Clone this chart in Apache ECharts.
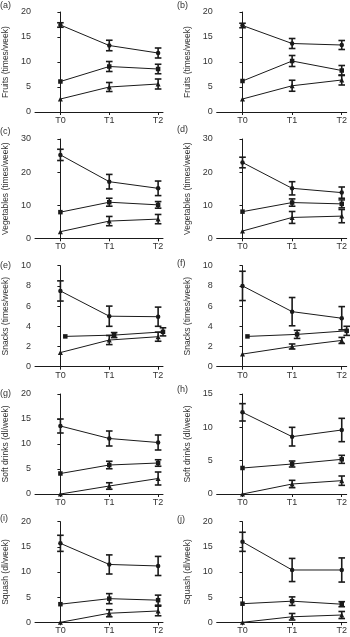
<!DOCTYPE html>
<html>
<head>
<meta charset="utf-8">
<script src="https://cdn.jsdelivr.net/npm/echarts@6/dist/echarts.min.js"></script>
<style>
  html, body { margin: 0; padding: 0; background: #fff; }
  #chart { width: 350px; height: 637px; }
</style>
</head>
<body>
<div id="chart"></div>
<script>
// measurement times
const times = ['T0', 'T1', 'T2'];
const panelLetters = ['(a)', '(b)', '(c)', '(d)', '(e)', '(f)', '(g)', '(h)', '(i)', '(j)'];
const yTitles = [
  'Fruits (times/week)', 'Fruits (times/week)',
  'Vegetables (times/week)', 'Vegetables (times/week)',
  'Snacks (times/week)', 'Snacks (times/week)',
  'Soft drinks (dl/week)', 'Soft drinks (dl/week)',
  'Squash (dl/week)', 'Squash (dl/week)'
];
const yMax = [20, 20, 30, 30, 10, 10, 20, 15, 20, 20];
const yStep = [5, 5, 10, 10, 2, 2, 5, 5, 5, 5];

// circle group (top line)
const circleMean = [
  [17.4, 13.3, 11.8],
  [17.3, 13.7, 13.4],
  [25.2, 17.1, 15.1],
  [22.9, 15.1, 13.8],
  [7.5, 5.0, 4.95],
  [8.0, 5.45, 4.8],
  [13.6, 11.1, 10.3],
  [12.25, 8.6, 9.6],
  [15.7, 11.5, 11.2],
  [16.0, 10.4, 10.4]
];
const circleErr = [
  [0.45, 1.05, 1.0],
  [0.45, 1.0, 0.9],
  [1.7, 2.2, 2.2],
  [1.6, 2.0, 1.7],
  [1.0, 1.0, 0.95],
  [1.45, 1.4, 1.15],
  [1.4, 1.5, 1.5],
  [1.3, 1.4, 1.75],
  [1.6, 1.9, 1.9],
  [1.9, 2.3, 2.4]
];
// square group (middle line)
const squareMean = [
  [6.1, 9.1, 8.6],
  [6.2, 10.2, 8.3],
  [7.9, 10.9, 10.1],
  [8.05, 10.8, 10.4],
  [3.0, 3.13, 3.45],
  [3.0, 3.2, 3.55],
  [4.1, 5.8, 6.2],
  [3.9, 4.5, 5.2],
  [3.6, 4.7, 4.4],
  [3.7, 4.2, 3.6]
];
const squareErr = [
  [0, 1.0, 0.95],
  [0, 1.1, 1.0],
  [0, 1.2, 1.0],
  [0, 1.1, 1.2],
  [0, 0.25, 0.4],
  [0, 0.4, 0.45],
  [0, 0.75, 0.65],
  [0, 0.45, 0.6],
  [0, 1.0, 1.0],
  [0, 0.85, 0.5]
];
// squares are drawn slightly right of the time point in (e) and (f)
const squareShift = [0, 0, 0, 0, 0.1, 0.1, 0, 0, 0, 0];
// triangle group (bottom line)
const triangleMean = [
  [2.6, 5.0, 5.6],
  [2.6, 5.25, 6.4],
  [2.0, 5.2, 5.8],
  [2.2, 6.3, 6.7],
  [1.4, 2.64, 2.97],
  [1.25, 2.0, 2.6],
  [0, 1.6, 3.1],
  [0, 1.5, 2.0],
  [0, 1.8, 2.25],
  [0, 1.1, 1.45]
];
const triangleErr = [
  [0, 0.9, 1.0],
  [0, 1.1, 1.0],
  [0, 1.4, 1.4],
  [0, 1.8, 2.0],
  [0, 0.45, 0.45],
  [0, 0.25, 0.3],
  [0, 0.65, 1.3],
  [0, 0.55, 0.7],
  [0, 0.7, 0.95],
  [0, 0.65, 0.7]
];

// layout
const colLeft = [32.5, 216.7];
const colWidth = [130.5, 130];
const rowTop = [12, 139, 265.7, 394, 521.7];
const rowHeight = [100, 99.3, 101, 100, 100.6];
const letterX = [0, 177];
const letterY = [1, 1, 127, 125, 261, 259, 389, 385, 514, 515];

const ink = '#1a1a1a';
const fontFamily = '"Liberation Sans", Arial, sans-serif';

function errBars(means, errs, shift) {
  const out = [];
  means.forEach((m, i) => {
    if (errs[i] > 0) out.push([i + shift, m - errs[i], m + errs[i]]);
  });
  return out;
}

function renderErr(params, api) {
  const x = api.value(0);
  const lo = api.coord([x, api.value(1)]);
  const hi = api.coord([x, api.value(2)]);
  const w = 3.3;
  const st = { stroke: ink, lineWidth: 1.6 };
  return {
    type: 'group',
    children: [
      { type: 'line', shape: { x1: lo[0], y1: lo[1], x2: hi[0], y2: hi[1] }, style: st },
      { type: 'line', shape: { x1: lo[0] - w, y1: lo[1], x2: lo[0] + w, y2: lo[1] }, style: st },
      { type: 'line', shape: { x1: hi[0] - w, y1: hi[1], x2: hi[0] + w, y2: hi[1] }, style: st }
    ]
  };
}

const grid = [], xAxis = [], yAxis = [], series = [], graphic = [];

for (let p = 0; p < 10; p++) {
  const col = p % 2, row = Math.floor(p / 2);
  grid.push({
    left: colLeft[col], top: rowTop[row],
    width: colWidth[col], height: rowHeight[row]
  });
  xAxis.push({
    type: 'value', gridIndex: p, min: -0.52, max: 2.1,
    axisLine: { show: true, lineStyle: { color: ink, width: 1 } },
    axisTick: { show: true, length: 3, customValues: [0, 1, 2], lineStyle: { color: ink } },
    axisLabel: {
      customValues: [0, 1, 2], formatter: v => times[v],
      fontSize: 9, color: '#333', margin: 4, fontFamily
    },
    splitLine: { show: false }
  });
  yAxis.push({
    type: 'value', gridIndex: p, min: 0, max: yMax[p], interval: yStep[p],
    name: yTitles[p], nameLocation: 'middle', nameGap: 25, nameRotate: 90,
    nameTextStyle: { fontSize: 8.5, color: '#333', fontFamily },
    axisLine: { show: true, lineStyle: { color: ink, width: 1 } },
    axisTick: { show: true, length: 3, lineStyle: { color: ink } },
    axisLabel: { fontSize: 9, color: '#333', margin: 4, fontFamily },
    splitLine: { show: false }
  });

  const groups = [
    { mean: circleMean[p], err: circleErr[p], shift: 0, symbol: 'circle', size: 4.5 },
    { mean: squareMean[p], err: squareErr[p], shift: squareShift[p], symbol: 'rect', size: 4.5 },
    { mean: triangleMean[p], err: triangleErr[p], shift: 0, symbol: 'triangle', size: 5 }
  ];
  groups.forEach(g => {
    series.push({
      type: 'line', xAxisIndex: p, yAxisIndex: p,
      data: g.mean.map((v, i) => [i + g.shift, v]),
      symbol: g.symbol, symbolSize: g.size, showSymbol: true,
      lineStyle: { color: ink, width: 1 },
      itemStyle: { color: ink },
      animation: false, silent: true, clip: false, z: 3
    });
    series.push({
      type: 'custom', xAxisIndex: p, yAxisIndex: p,
      data: errBars(g.mean, g.err, g.shift),
      encode: { x: 0, y: [1, 2] },
      renderItem: renderErr,
      animation: false, silent: true, z: 4
    });
  });

  graphic.push({
    type: 'text', left: letterX[col], top: letterY[p],
    style: { text: panelLetters[p], font: '9px ' + fontFamily, fill: '#333' }
  });
}

const chart = echarts.init(document.getElementById('chart'), null, { renderer: 'canvas' });
chart.setOption({
  animation: false,
  grid, xAxis, yAxis, series, graphic
});
</script>
</body>
</html>
